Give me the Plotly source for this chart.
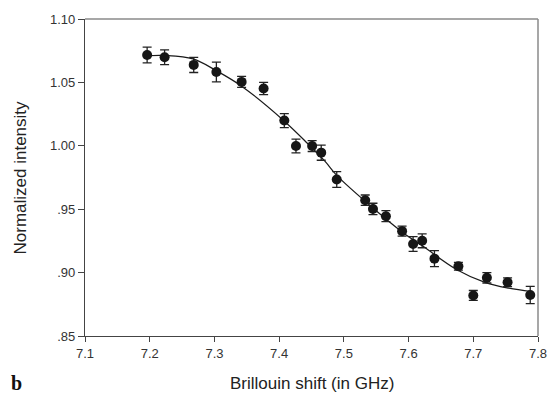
import plotly.graph_objects as go

# measured data points
shift_ghz = [7.196, 7.223, 7.268, 7.303, 7.342, 7.376, 7.408, 7.426, 7.451, 7.465,
             7.489, 7.533, 7.545, 7.565, 7.590, 7.607, 7.621, 7.640, 7.677, 7.700,
             7.721, 7.753, 7.788]
intensity = [1.0716, 1.0698, 1.0638, 1.0582, 1.0504, 1.0452, 1.0199, 0.9998, 0.9998, 0.9946,
             0.9734, 0.9571, 0.9502, 0.9445, 0.9327, 0.9226, 0.9251, 0.9110, 0.9050, 0.8820,
             0.8959, 0.8924, 0.8823]
err = [0.0062, 0.0058, 0.0060, 0.0078, 0.0044, 0.0048, 0.0055, 0.0054, 0.0043, 0.0060,
       0.0062, 0.0041, 0.0045, 0.0043, 0.0039, 0.0058, 0.0055, 0.0063, 0.0030, 0.0039,
       0.0041, 0.0034, 0.0068]

# fitted curve
fit_x = [7.196, 7.224, 7.267, 7.303, 7.342, 7.406, 7.444, 7.471, 7.489, 7.532,
         7.590, 7.623, 7.674, 7.719, 7.755, 7.790]
fit_y = [1.0710, 1.0712, 1.0685, 1.0592, 1.0470, 1.0204, 1.0018, 0.9877, 0.9767, 0.9567,
         0.9321, 0.9205, 0.9025, 0.8921, 0.8877, 0.8851]

x_ticks = [7.1, 7.2, 7.3, 7.4, 7.5, 7.6, 7.7, 7.8]
y_ticks = [0.85, 0.90, 0.95, 1.00, 1.05, 1.10]
y_tick_labels = [".85", ".90", ".95", "1.00", "1.05", "1.10"]

fig = go.Figure()
fig.add_trace(go.Scatter(
    x=fit_x, y=fit_y, mode="lines",
    line=dict(color="#1a1a1a", width=1.2, shape="spline", smoothing=1.0),
    hoverinfo="skip", showlegend=False))
fig.add_trace(go.Scatter(
    x=shift_ghz, y=intensity, mode="markers",
    marker=dict(color="#161616", size=10),
    error_y=dict(type="data", array=err, visible=True, color="#222222",
                 thickness=1.3, width=4.5),
    showlegend=False))

axis_font = dict(family="Liberation Sans, Arial, sans-serif", size=13, color="#333333")

fig.update_layout(
    width=559, height=393,
    margin=dict(l=85, r=12, t=13, b=57),
    paper_bgcolor="white", plot_bgcolor="white",
    xaxis=dict(range=[7.1, 7.8], tickvals=x_ticks, ticktext=[f"{v:.1f}" for v in x_ticks],
               showgrid=False, zeroline=False, showline=True, linecolor="#444444", linewidth=1.2,
               ticks="outside", ticklen=5, tickcolor="#444444", tickfont=axis_font),
    yaxis=dict(range=[0.85, 1.10], tickvals=y_ticks, ticktext=y_tick_labels,
               showgrid=False, zeroline=False, showline=True, linecolor="#444444", linewidth=1.2,
               ticks="outside", ticklen=6, tickcolor="#444444", tickfont=axis_font),
    shapes=[
        dict(type="line", xref="paper", yref="paper", x0=0, x1=1, y0=1, y1=1,
             line=dict(color="#8a8a8a", width=1.5)),
        dict(type="line", xref="paper", yref="paper", x0=1, x1=1, y0=0, y1=1,
             line=dict(color="#8a8a8a", width=1.5)),
    ],
    annotations=[
        dict(text="Brillouin shift (in GHz)", xref="paper", yref="paper", x=0.5, y=0,
             xanchor="center", yanchor="middle", yshift=-47, showarrow=False,
             font=dict(family="Liberation Sans, Arial, sans-serif", size=17, color="#222222")),
        dict(text="Normalized intensity", xref="paper", yref="paper", x=0, y=0.5,
             xanchor="center", yanchor="middle", xshift=-65, textangle=-90, showarrow=False,
             font=dict(family="Liberation Sans, Arial, sans-serif", size=17, color="#222222")),
        dict(text="<b>b</b>", xref="paper", yref="paper", x=0, y=0,
             xanchor="center", yanchor="middle", xshift=-69, yshift=-47, showarrow=False,
             font=dict(family="Liberation Serif, Times New Roman, serif", size=20, color="#111111")),
    ],
)

fig.write_html("out.html")
